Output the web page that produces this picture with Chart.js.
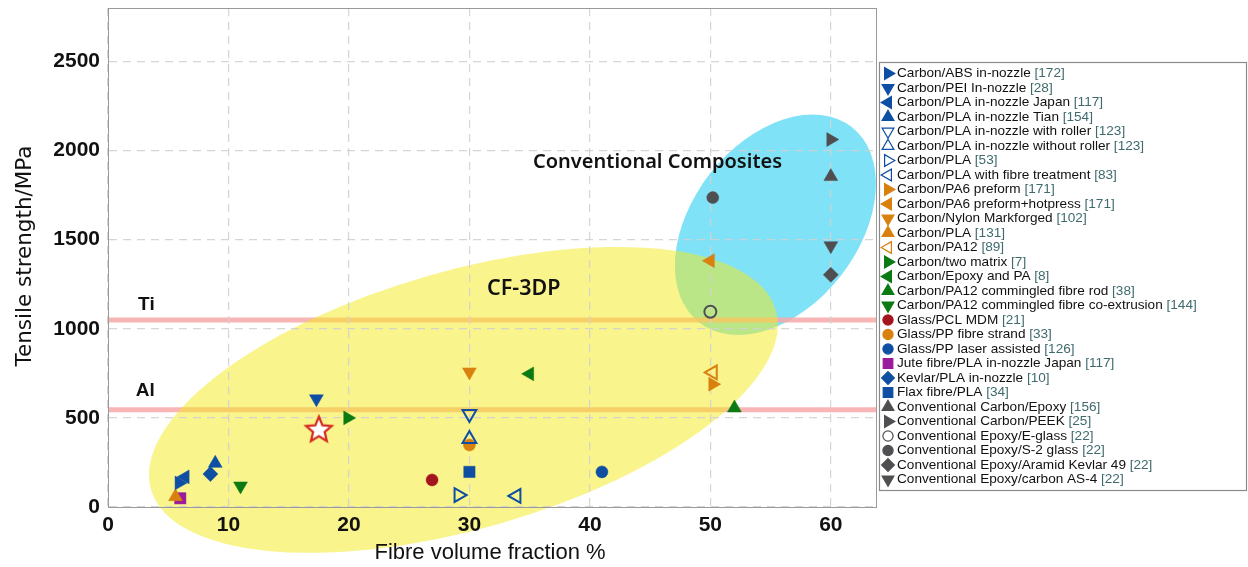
<!DOCTYPE html>
<html>
<head>
<meta charset="utf-8">
<title>Tensile strength vs fibre volume fraction</title>
<script src="https://cdn.jsdelivr.net/npm/chart.js@4.4.1/dist/chart.umd.min.js"></script>
<style>
  html, body { margin: 0; padding: 0; background: #fff; }
  #wrap { width: 1248px; height: 567px; position: relative; }
</style>
</head>
<body>
<div id="wrap"><canvas id="strengthChart"></canvas></div>
<script>
/* ================= DATA ================= */
const seriesNames = [
  "Carbon/ABS in-nozzle",
  "Carbon/PEI In-nozzle",
  "Carbon/PLA in-nozzle Japan",
  "Carbon/PLA in-nozzle Tian",
  "Carbon/PLA in-nozzle with roller",
  "Carbon/PLA in-nozzle without roller",
  "Carbon/PLA",
  "Carbon/PLA with fibre treatment",
  "Carbon/PA6 preform",
  "Carbon/PA6 preform+hotpress",
  "Carbon/Nylon Markforged",
  "Carbon/PLA",
  "Carbon/PA12",
  "Carbon/two matrix",
  "Carbon/Epoxy and PA",
  "Carbon/PA12 commingled fibre rod",
  "Carbon/PA12 commingled fibre co-extrusion",
  "Glass/PCL MDM",
  "Glass/PP fibre strand",
  "Glass/PP laser assisted",
  "Jute fibre/PLA in-nozzle Japan",
  "Kevlar/PLA in-nozzle",
  "Flax fibre/PLA",
  "Conventional Carbon/Epoxy",
  "Conventional Carbon/PEEK",
  "Conventional Epoxy/E-glass",
  "Conventional Epoxy/S-2 glass",
  "Conventional Epoxy/Aramid Kevlar 49",
  "Conventional Epoxy/carbon AS-4"
];
const seriesRefs = ["172", "28", "117", "154", "123", "123", "53", "83", "171", "171",
  "102", "131", "89", "7", "8", "38", "144", "21", "33", "126",
  "117", "10", "34", "156", "25", "22", "22", "22", "22"];

// fibre volume fraction (%) and tensile strength (MPa), one point per series
const fibreFraction = [5.9, 17.3, 6.4, 8.9, 30, 30, 29.1, 33.9, 50.2, 50,
  30, 5.6, 50.2, 19.9, 35, 52, 11, 26.9, 30, 41,
  6.0, 8.5, 30, 60, 60, 50, 50.2, 60, 60];
const tensileStrength = [135, 607, 169, 245, 522, 382, 67, 62, 689, 1382,
  758, 58, 755, 500, 747, 556, 118, 152, 348, 197,
  49, 185, 197, 1854, 2062, 1096, 1736, 1303, 1466];

// current work
const starPoint = { fraction: 17.5, strength: 440 };

// reference metals
const tiStrength = 1050;
const alStrength = 545;

const xTicks = [0, 10, 20, 30, 40, 50, 60];
const yTicks = [0, 500, 1000, 1500, 2000, 2500];

/* ================= MARKER STYLES ================= */
const markerShape = ["right", "down", "left", "up", "down", "up", "right", "left", "right", "left",
  "down", "up", "left", "right", "left", "up", "down", "circle", "circle", "circle",
  "square", "diamond", "square", "up", "right", "circle", "circle", "diamond", "down"];
const markerOpen = [4, 5, 6, 7, 12, 25];

const BLUE = "#0f4fa3";
const ORANGE = "#d9810f";
const GREEN = "#0c7a12";
const DARKRED = "#a3141e";
const PURPLE = "#9a1a9c";
const GREY = "#4f4f52";
const markerColor = [BLUE, BLUE, BLUE, BLUE, BLUE, BLUE, BLUE, BLUE, ORANGE, ORANGE,
  ORANGE, ORANGE, ORANGE, GREEN, GREEN, GREEN, GREEN, DARKRED, ORANGE, BLUE,
  PURPLE, BLUE, BLUE, GREY, GREY, GREY, GREY, GREY, GREY];

const shapes = {
  up:      { style: "triangle", rotation: 0,   radius: 8 },
  right:   { style: "triangle", rotation: 90,  radius: 8 },
  down:    { style: "triangle", rotation: 180, radius: 8 },
  left:    { style: "triangle", rotation: -90, radius: 8 },
  circle:  { style: "circle",   rotation: 0,   radius: 6 },
  square:  { style: "rect",     rotation: 0,   radius: 8 },
  diamond: { style: "rectRot",  rotation: 0,   radius: 7.5 }
};

// shaded regions: centre in data units, radii in px, angle in degrees
const printedRegion = { x: 29.5, y: 601, rx: 325, ry: 129, angle: 16, color: "rgba(245,233,25,0.5)" };
const conventionalRegion = { x: 55.4, y: 1584, rx: 124, ry: 83, angle: 52, color: "#80e2f6" };

// star marker for this work
function makeStar(size) {
  const c = document.createElement("canvas");
  c.width = size; c.height = size;
  const g = c.getContext("2d");
  const cx = size / 2, cy = size / 2 + 1.5, R = size / 2 - 2.5, r = R * 0.45;
  g.beginPath();
  for (let i = 0; i < 10; i++) {
    const a = -Math.PI / 2 + i * Math.PI / 5;
    const rad = i % 2 ? r : R;
    g.lineTo(cx + rad * Math.cos(a), cy + rad * Math.sin(a));
  }
  g.closePath();
  g.fillStyle = "#fff";
  g.fill();
  g.lineWidth = 2.2;
  g.lineJoin = "miter";
  g.strokeStyle = "#d42a22";
  g.stroke();
  return c;
}

/* ================= DATASETS ================= */
const datasets = seriesNames.map((name, i) => {
  const s = shapes[markerShape[i]];
  const open = markerOpen.includes(i);
  return {
    label: name,
    data: [{ x: fibreFraction[i], y: tensileStrength[i] }],
    pointStyle: s.style,
    rotation: s.rotation,
    pointRadius: s.radius,
    backgroundColor: open ? "rgba(0,0,0,0)" : markerColor[i],
    borderColor: markerColor[i],
    borderWidth: open ? 2 : 0.5
  };
});
datasets.push({
  label: "this work",
  data: [{ x: starPoint.fraction, y: starPoint.strength }],
  pointStyle: makeStar(32),
  pointRadius: 16
});

/* ================= DRAWING HELPERS ================= */
function drawEllipse(ctx, chart, reg) {
  const { x, y } = chart.scales;
  ctx.beginPath();
  ctx.ellipse(x.getPixelForValue(reg.x), y.getPixelForValue(reg.y),
    reg.rx, reg.ry, -reg.angle * Math.PI / 180, 0, Math.PI * 2);
  ctx.fillStyle = reg.color;
  ctx.fill();
}

const regionsPlugin = {
  id: "regions",
  beforeDraw(chart) {
    const { ctx, chartArea, scales: { y } } = chart;
    ctx.save();
    drawEllipse(ctx, chart, conventionalRegion);

    ctx.lineWidth = 5;
    ctx.strokeStyle = "rgba(247,168,168,0.85)";
    [tiStrength, alStrength].forEach(v => {
      const py = y.getPixelForValue(v);
      ctx.beginPath();
      ctx.moveTo(chartArea.left, py);
      ctx.lineTo(chartArea.right, py);
      ctx.stroke();
    });

    drawEllipse(ctx, chart, printedRegion);
    ctx.restore();
  },
  afterDraw(chart) {
    const { ctx, chartArea, scales: { x, y } } = chart;
    ctx.save();

    // plot frame
    ctx.strokeStyle = "#9a9a9a";
    ctx.lineWidth = 1;
    ctx.strokeRect(chartArea.left + 0.5, chartArea.top + 0.5,
      chartArea.right - chartArea.left, chartArea.bottom - chartArea.top);

    // text annotations
    ctx.fillStyle = "#111";
    ctx.textBaseline = "middle";
    ctx.textAlign = "left";
    ctx.font = "bold 19px 'Liberation Sans', Arial, sans-serif";
    ctx.fillText("Ti", x.getPixelForValue(2.5), y.getPixelForValue(tiStrength) - 15);
    ctx.fillText("Al", x.getPixelForValue(2.3), y.getPixelForValue(alStrength) - 19);
    ctx.font = "600 21.5px 'Noto Sans', sans-serif";
    ctx.fillText("CF-3DP", 487, y.getPixelForValue(1225));
    ctx.font = "600 20px 'Noto Sans', sans-serif";
    ctx.fillText("Conventional Composites", 533, y.getPixelForValue(1935));

    // axis titles
    ctx.font = "22px 'Liberation Sans', sans-serif";
    ctx.textAlign = "center";
    ctx.fillText("Fibre volume fraction %", 490, 553);
    ctx.save();
    ctx.translate(25, 256);
    ctx.rotate(-Math.PI / 2);
    ctx.font = "21.5px 'DejaVu Sans', sans-serif";
    ctx.fillText("Tensile strength/MPa", 0, 0);
    ctx.restore();

    // legend box
    const lx = 879, ly = 62, lw = 367, lh = 428;
    ctx.fillStyle = "#fff";
    ctx.fillRect(lx, ly, lw, lh);
    ctx.strokeStyle = "#8a8a8a";
    ctx.lineWidth = 1.2;
    ctx.strokeRect(lx + 0.5, ly + 0.5, lw, lh);

    ctx.textAlign = "left";
    ctx.textBaseline = "middle";
    ctx.font = "13.6px 'Liberation Sans', Arial, sans-serif";
    seriesNames.forEach((name, i) => {
      const rowY = 73.5 + i * 14.5;
      const s = shapes[markerShape[i]];
      const open = markerOpen.includes(i);
      ctx.fillStyle = open ? "#fff" : markerColor[i];
      ctx.strokeStyle = markerColor[i];
      Chart.helpers.drawPoint(ctx, {
        pointStyle: s.style,
        rotation: s.rotation,
        radius: s.radius * 0.85,
        borderWidth: open ? 1.8 : 0.5
      }, 888, rowY);
      ctx.fillStyle = "#111";
      ctx.fillText(name, 897, rowY);
      const w = ctx.measureText(name + " ").width;
      ctx.fillStyle = "#3f6a6c";
      ctx.fillText("[" + seriesRefs[i] + "]", 897 + w, rowY);
    });

    ctx.restore();
  }
};

/* ================= CHART ================= */
Chart.defaults.font.family = "'Liberation Sans', Arial, sans-serif";

new Chart(document.getElementById("strengthChart"), {
  type: "scatter",
  data: { datasets },
  plugins: [regionsPlugin],
  options: {
    responsive: true,
    maintainAspectRatio: false,
    animation: false,
    events: [],
    layout: { autoPadding: false, padding: { top: 8, right: 372, left: 0, bottom: 0 } },
    plugins: {
      legend: { display: false },
      tooltip: { enabled: false }
    },
    scales: {
      x: {
        type: "linear",
        min: 0,
        max: 63.75,
        afterFit: s => { s.height = 60; s.paddingLeft = 0; s.paddingRight = 0; },
        afterBuildTicks: s => { s.ticks = xTicks.map(v => ({ value: v })); },
        ticks: {
          color: "#111",
          padding: 6,
          callback: v => String(v),
          font: { size: 21, weight: "bold" }
        },
        grid: { color: "rgba(210,210,210,0.9)", drawTicks: false, lineWidth: 1.2 },
        border: { color: "#9a9a9a", dash: [8, 6] }
      },
      y: {
        type: "linear",
        min: 0,
        max: 2800,
        afterFit: s => { s.width = 108; s.paddingTop = 0; s.paddingBottom = 0; },
        afterBuildTicks: s => { s.ticks = yTicks.map(v => ({ value: v })); },
        ticks: {
          color: "#111",
          padding: 8,
          callback: v => String(v),
          font: { size: 21, weight: "bold" }
        },
        grid: { color: "rgba(210,210,210,0.9)", drawTicks: false, lineWidth: 1.2 },
        border: { color: "#9a9a9a", dash: [8, 6] }
      }
    }
  }
});
</script>
</body>
</html>
